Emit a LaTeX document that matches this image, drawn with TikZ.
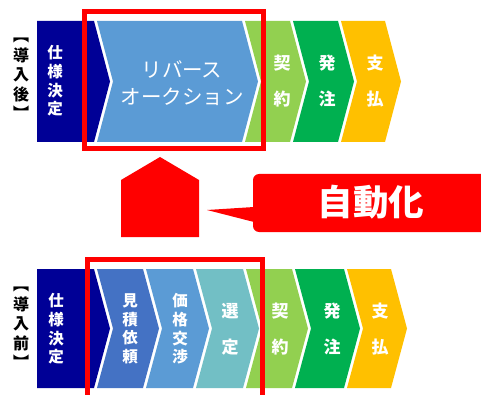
\documentclass[tikz,border=0pt]{standalone}
\usepackage{fontspec}
\setmainfont{Noto Sans CJK JP}
\newfontfamily\jp{Noto Sans CJK JP}
\definecolor{navyc}{HTML}{000096}
\definecolor{bluec}{HTML}{5B9BD5}
\definecolor{dbluec}{HTML}{4472C4}
\definecolor{tealc}{HTML}{72BFC5}
\definecolor{lgreenc}{HTML}{92D050}
\definecolor{dgreenc}{HTML}{00B050}
\definecolor{yellowc}{HTML}{FFC000}
\definecolor{redc}{HTML}{FF0000}
\newcommand\chevshape[6]{\fill[#5] (#1,#3) -- (#2,#3) -- ({#2+16},{(#3+#4)/2}) -- (#2,#4) -- (#1,#4) -- ({#1+#6},{(#3+#4)/2}) -- cycle;}
\begin{document}
\begin{tikzpicture}[x=1pt,y=-1pt,
  vtxt/.style={text=white, align=center, inner sep=0pt, font=\jp\bfseries\fontsize{15.5}{18.6}\selectfont},
  vtxtwide/.style={text=white, align=center, inner sep=0pt, font=\jp\bfseries\fontsize{17}{36}\selectfont},
  lbl/.style={text=black, align=center, inner sep=0pt, font=\jp\bfseries\fontsize{16}{19.5}\selectfont},
  redframe/.style={draw=redc, line width=5pt}]
\useasboundingbox (0,0) rectangle (481,395);
\fill[white] (0,0) rectangle (481,395);
% top row
\chevshape{37}{94}{21}{142}{navyc}{0}
\chevshape{97}{242}{21}{142}{bluec}{16}
\chevshape{245}{290}{21}{142}{lgreenc}{16}
\chevshape{293}{338}{21}{142}{dgreenc}{16}
\chevshape{341}{385}{21}{142}{yellowc}{16}
% bottom row
\chevshape{37}{94}{269}{388}{navyc}{0}
\chevshape{97}{143}{269}{388}{dbluec}{16}
\chevshape{146}{193}{269}{388}{bluec}{16}
\chevshape{196}{243}{269}{388}{tealc}{16}
\chevshape{246}{292}{269}{388}{lgreenc}{16}
\chevshape{295}{344}{269}{388}{dgreenc}{16}
\chevshape{347}{391}{269}{388}{yellowc}{16}
% labels
\node[lbl] (after) at (21,79) {︻\\導\\入\\後\\︼};
\node[lbl] (before) at (21,328) {︻\\導\\入\\前\\︼};
% top texts
\node[vtxt] (t1) at (55,81) {仕\\様\\決\\定};
\node[text=white, align=center, inner sep=0pt, font=\jp\fontsize{20.5}{27}\selectfont] (t2) at (182,83) {リバース\\オークション};
\node[vtxtwide] (t3) at (282,81) {契\\約};
\node[vtxtwide] (t4) at (327,81) {発\\注};
\node[vtxtwide] (t5) at (375,81) {支\\払};
% bottom texts
\node[vtxt] (b1) at (56,329) {仕\\様\\決\\定};
\node[vtxt] (b2) at (130,329) {見\\積\\依\\頼};
\node[vtxt] (b3) at (180,329) {価\\格\\交\\渉};
\node[vtxtwide] (b4) at (230,329) {選\\定};
\node[vtxtwide] (b5) at (280,329) {契\\約};
\node[vtxtwide] (b6) at (332,329) {発\\注};
\node[vtxtwide] (b7) at (380,329) {支\\払};
% red frames
\draw[redframe] (84,12) rectangle (263,148.5);
\draw[redframe] (87.5,259.5) rectangle (262.5,397);
% house arrow
\fill[redc] (121,237) -- (121,180) -- (160,157) -- (199,180) -- (199,237) -- cycle;
% callout
\fill[redc, rounded corners=6pt] (253,174) rectangle (495,232);
\fill[redc] (207,210) -- (254,207) -- (254,222) -- cycle;
\node[text=white, inner sep=0pt, font=\jp\bfseries\fontsize{35.5}{40}\selectfont] (auto) at (371,202) {自動化};
\end{tikzpicture}
\end{document}
